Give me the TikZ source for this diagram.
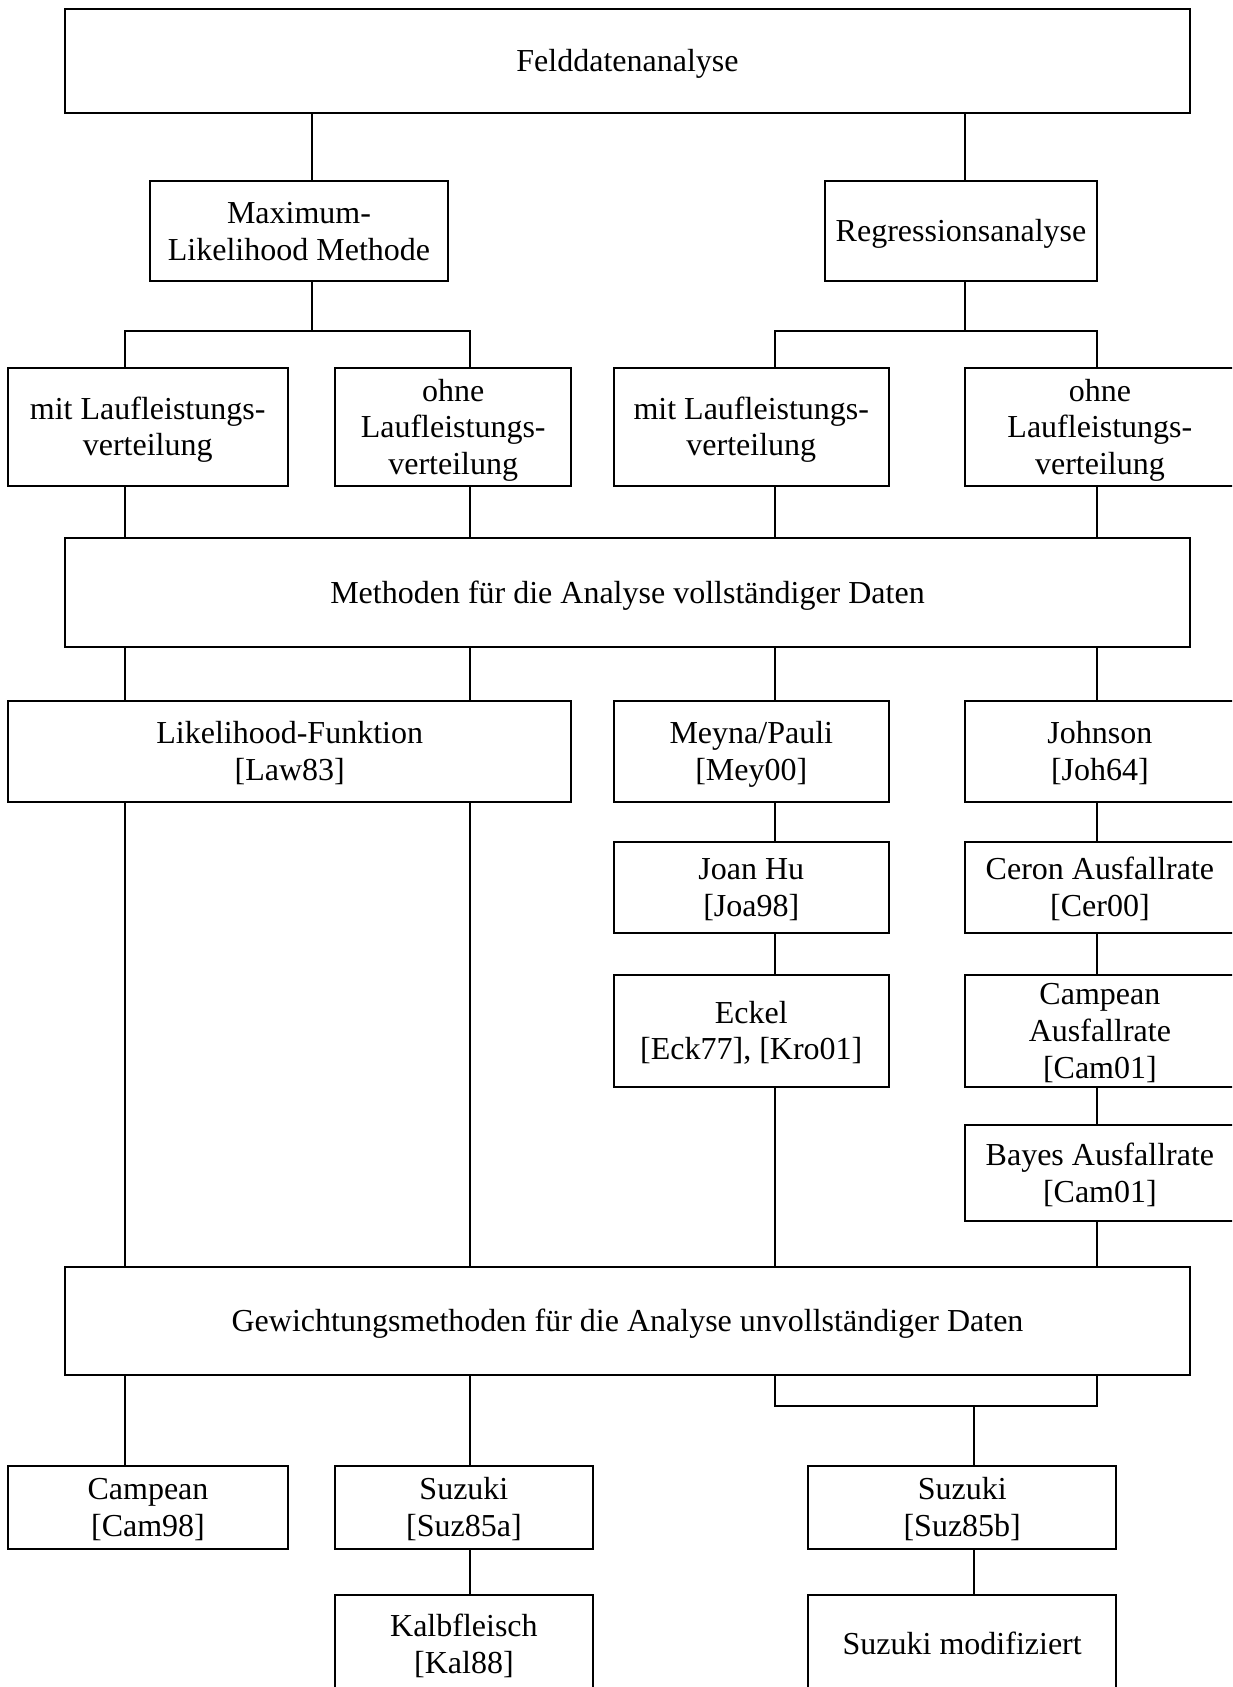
\documentclass[tikz,border=0pt]{standalone}
\usepackage{fontspec}
\setmainfont{Liberation Serif}
\newcommand\lnstrut{\rule[-7pt]{0pt}{35.4pt}}
\begin{document}
\begin{tikzpicture}[x=1pt,y=-1pt,
  box/.style={draw, line width=2pt, inner sep=0pt, outer sep=0pt, align=center,
    font=\fontsize{32}{36.6}\selectfont},
  conn/.style={line width=2pt}]
\useasboundingbox (0,0) rectangle (1232,1687);
\clip (0,0) rectangle (1232,1687);
\fill[white] (0,0) rectangle (1232,1687);
% column coordinates
\coordinate (cA) at (125,0);
\coordinate (cB) at (469.8,0);
\coordinate (cC) at (774.8,0);
\coordinate (cD) at (1097,0);
\coordinate (cTL) at (312,0);
\coordinate (cTR) at (964.8,0);
\coordinate (cS) at (973.6,0);
\coordinate (j1) at (312,331);
\coordinate (j2) at (964.8,331);
\coordinate (j3) at (973.6,1405.7);
% nodes
\node[box, minimum width=1124.5pt, minimum height=103.7pt] (fd) at (627.5,60.9) {\lnstrut Felddatenanalyse};
\node[box, minimum width=298pt, minimum height=100pt] (ml) at (299,231) {\lnstrut Maximum-\\\lnstrut Likelihood Methode};
\node[box, minimum width=272pt, minimum height=100pt] (rg) at (961,231) {\lnstrut Regressionsanalyse};
\node[box, minimum width=279.6pt, minimum height=117.7pt] (mit1) at (147.7,426.9) {\lnstrut mit Laufleistungs-\\\lnstrut verteilung};
\node[box, minimum width=236.4pt, minimum height=117.7pt] (ohne1) at (453.2,426.9) {\lnstrut ohne\\\lnstrut Laufleistungs-\\\lnstrut verteilung};
\node[box, minimum width=274.6pt, minimum height=117.7pt] (mit2) at (751.3,426.9) {\lnstrut mit Laufleistungs-\\\lnstrut verteilung};
\node[box, minimum width=270.3pt, minimum height=117.7pt] (ohne2) at (1099.9,426.9) {\lnstrut ohne\\\lnstrut Laufleistungs-\\\lnstrut verteilung};
\node[box, minimum width=1124.5pt, minimum height=108.5pt] (meth) at (627.5,592.3) {\lnstrut Methoden für die Analyse vollständiger Daten};
\node[box, minimum width=563.5pt, minimum height=100.7pt] (lik) at (289.7,751.4) {\lnstrut Likelihood-Funktion\\\lnstrut [Law83]};
\node[box, minimum width=274.6pt, minimum height=100.7pt] (mey) at (751.3,751.4) {\lnstrut Meyna/Pauli\\\lnstrut [Mey00]};
\node[box, minimum width=270.3pt, minimum height=100.7pt] (joh) at (1099.9,751.4) {\lnstrut Johnson\\\lnstrut [Joh64]};
\node[box, minimum width=274.6pt, minimum height=90.5pt] (joa) at (751.3,887.5) {\lnstrut Joan Hu\\\lnstrut [Joa98]};
\node[box, minimum width=270.3pt, minimum height=90.5pt] (cer) at (1099.9,887.5) {\lnstrut Ceron Ausfallrate\\\lnstrut [Cer00]};
\node[box, minimum width=274.6pt, minimum height=111.5pt] (eck) at (751.3,1030.8) {\lnstrut Eckel\\\lnstrut [Eck77], [Kro01]};
\node[box, minimum width=270.3pt, minimum height=111.5pt] (cam01) at (1099.9,1030.8) {\lnstrut Campean\\\lnstrut Ausfallrate\\\lnstrut [Cam01]};
\node[box, minimum width=270.3pt, minimum height=96.4pt] (bay) at (1099.9,1173.2) {\lnstrut Bayes Ausfallrate\\\lnstrut [Cam01]};
\node[box, minimum width=1124.5pt, minimum height=107.8pt] (gew) at (627.5,1320.6) {\lnstrut Gewichtungsmethoden für die Analyse unvollständiger Daten};
\node[box, minimum width=280pt, minimum height=83.3pt] (cam98) at (148,1507.4) {\lnstrut Campean\\\lnstrut [Cam98]};
\node[box, minimum width=258.3pt, minimum height=83.3pt] (suza) at (463.9,1507.4) {\lnstrut Suzuki\\\lnstrut [Suz85a]};
\node[box, minimum width=307.6pt, minimum height=83.3pt] (suzb) at (962.2,1507.4) {\lnstrut Suzuki\\\lnstrut [Suz85b]};
\node[box, minimum width=258.3pt, minimum height=98pt] (kal) at (463.9,1644) {\lnstrut Kalbfleisch\\\lnstrut [Kal88]};
\node[box, minimum width=307.6pt, minimum height=98pt] (suzm) at (962.2,1644) {\lnstrut Suzuki modifiziert};
% connectors
\draw[conn] (fd.south -| cTL) -- (ml.north -| cTL);
\draw[conn] (fd.south -| cTR) -- (rg.north -| cTR);
\draw[conn] (ml.south -| cTL) -- (j1);
\draw[conn] (mit1.north -| cA) -- (cA |- j1) -- (cB |- j1) -- (ohne1.north -| cB);
\draw[conn] (rg.south -| cTR) -- (j2);
\draw[conn] (mit2.north -| cC) -- (cC |- j2) -- (cD |- j2) -- (ohne2.north -| cD);
\draw[conn] (mit1.south -| cA) -- (meth.north -| cA);
\draw[conn] (ohne1.south -| cB) -- (meth.north -| cB);
\draw[conn] (mit2.south -| cC) -- (meth.north -| cC);
\draw[conn] (ohne2.south -| cD) -- (meth.north -| cD);
\draw[conn] (meth.south -| cA) -- (lik.north -| cA);
\draw[conn] (meth.south -| cB) -- (lik.north -| cB);
\draw[conn] (meth.south -| cC) -- (mey.north -| cC);
\draw[conn] (meth.south -| cD) -- (joh.north -| cD);
\draw[conn] (mey.south -| cC) -- (joa.north -| cC);
\draw[conn] (joa.south -| cC) -- (eck.north -| cC);
\draw[conn] (joh.south -| cD) -- (cer.north -| cD);
\draw[conn] (cer.south -| cD) -- (cam01.north -| cD);
\draw[conn] (cam01.south -| cD) -- (bay.north -| cD);
\draw[conn] (lik.south -| cA) -- (gew.north -| cA);
\draw[conn] (lik.south -| cB) -- (gew.north -| cB);
\draw[conn] (eck.south -| cC) -- (gew.north -| cC);
\draw[conn] (bay.south -| cD) -- (gew.north -| cD);
\draw[conn] (gew.south -| cA) -- (cam98.north -| cA);
\draw[conn] (gew.south -| cB) -- (suza.north -| cB);
\draw[conn] (gew.south -| cC) -- (cC |- j3) -- (cD |- j3) -- (gew.south -| cD);
\draw[conn] (j3) -- (suzb.north -| j3);
\draw[conn] (suza.south -| cB) -- (kal.north -| cB);
\draw[conn] (suzb.south -| cS) -- (suzm.north -| cS);
\end{tikzpicture}
\end{document}
